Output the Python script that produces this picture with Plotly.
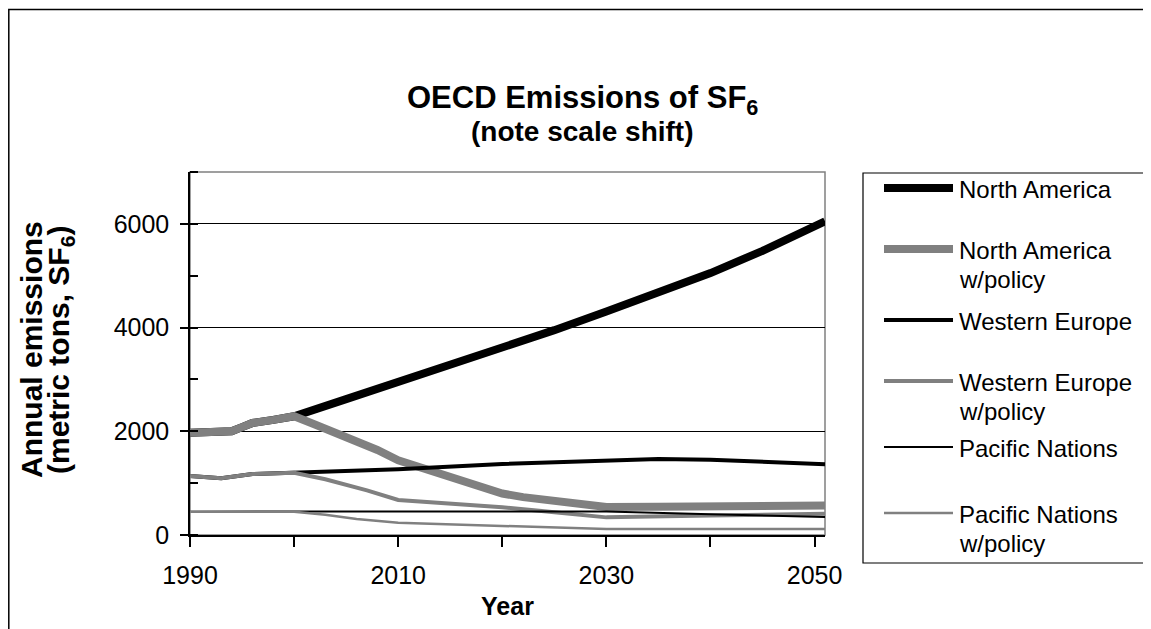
import plotly.graph_objects as go

# ---- data ----
years_na = [1990, 1992, 1994, 1995, 1996, 1998, 2000, 2005, 2010, 2015, 2020, 2025, 2030, 2035, 2040, 2045, 2050, 2051]
north_america = [1970, 1985, 2000, 2080, 2160, 2220, 2290, 2620, 2950, 3250, 3580, 3950, 4310, 4670, 5050, 5480, 5950, 6050]

years_nap = [1990, 1992, 1994, 1995, 1996, 1998, 2000, 2002, 2004, 2006, 2008, 2010, 2012, 2015, 2018, 2020, 2022, 2025, 2028, 2030, 2035, 2040, 2045, 2051]
north_america_policy = [1970, 1985, 2000, 2080, 2160, 2220, 2290, 2130, 1970, 1820, 1640, 1440, 1310, 1120, 930, 800, 730, 660, 590, 540, 545, 555, 560, 570]

years_we = [1990, 1993, 1996, 2000, 2010, 2020, 2030, 2035, 2040, 2045, 2051]
western_europe = [1140, 1095, 1175, 1200, 1270, 1370, 1445, 1465, 1450, 1420, 1365]

years_wep = [1990, 1993, 1996, 2000, 2003, 2007, 2010, 2014, 2020, 2025, 2030, 2040, 2051]
western_europe_policy = [1140, 1095, 1175, 1200, 1075, 860, 675, 620, 535, 440, 340, 375, 410]

years_pac = [1990, 2000, 2010, 2020, 2030, 2040, 2051]
pacific = [450, 450, 450, 460, 455, 400, 345]

years_pacp = [1990, 2000, 2003, 2006, 2010, 2014, 2020, 2030, 2051]
pacific_policy = [450, 450, 390, 310, 235, 210, 175, 115, 115]

series_names = ["North America", "North America w/policy", "Western Europe",
                "Western Europe w/policy", "Pacific Nations", "Pacific Nations w/policy"]
legend_lines = [["North America"], ["North America", "w/policy"], ["Western Europe"],
                ["Western Europe", "w/policy"], ["Pacific Nations"], ["Pacific Nations", "w/policy"]]
series_x = [years_na, years_nap, years_we, years_wep, years_pac, years_pacp]
series_y = [north_america, north_america_policy, western_europe,
            western_europe_policy, pacific, pacific_policy]
colors = ["black", "#808080", "black", "#808080", "black", "#808080"]
widths = [8, 8, 4, 4, 2, 2.5]

FONT = "Liberation Sans, Arial, sans-serif"

fig = go.Figure()
for name, xs, ys, col, w in zip(series_names, series_x, series_y, colors, widths):
    fig.add_trace(go.Scatter(x=xs, y=ys, name=name, mode="lines",
                             line=dict(color=col, width=w), showlegend=False))

# page-pixel geometry (the page body has an 8px margin)
OFF = 8
L, R, T, B = 190, 825, 172, 535      # plot area in page pixels
W, H = 1151 - OFF, 629 - OFF          # figure size
pw, ph = R - L, B - T
def px(x): return (x - L) / pw
def py(y): return (B - y) / ph

fig.update_layout(
    width=W, height=H,
    margin=dict(l=L - OFF, r=W - (R - OFF), t=T - OFF, b=H - (B - OFF), pad=0),
    paper_bgcolor="white", plot_bgcolor="white",
    font=dict(family=FONT, color="black", size=24),
    showlegend=False,
    xaxis=dict(range=[1990, 2051], tickmode="linear", tick0=1990, dtick=20,
               ticks="outside", ticklen=10, tickcolor="black", tickwidth=1.5,
               minor=dict(dtick=10, tick0=1990, ticks="outside", ticklen=10, tickcolor="black", tickwidth=1.5),
               showgrid=False, zeroline=False, showline=True, linecolor="black", linewidth=1.5,
               tickfont=dict(size=25), ticklabelstandoff=7,
               title=dict(text="<b>Year</b>", font=dict(size=25), standoff=10)),
    yaxis=dict(range=[0, 7000], tickmode="linear", tick0=0, dtick=2000,
               ticks="outside", ticklen=8, tickcolor="black", tickwidth=1.5,
               minor=dict(dtick=1000, ticks="inside", ticklen=8, tickcolor="black", tickwidth=1.5),
               showgrid=True, gridcolor="black", gridwidth=1,
               zeroline=False, showline=True, linecolor="black", linewidth=1.5,
               tickfont=dict(size=25), ticklabelstandoff=6),
)

shapes = [
    # plot-area border (gray)
    dict(type="rect", xref="paper", yref="paper", x0=0, x1=1, y0=0, y1=1,
         line=dict(color="#808080", width=1.5), layer="below"),
    # legend box
    dict(type="rect", xref="paper", yref="paper", x0=px(863), x1=px(1149), y0=py(563), y1=py(173),
         line=dict(color="black", width=1.2), layer="above"),
    # outer chart frame
    dict(type="rect", xref="paper", yref="paper", x0=px(OFF + 0.8), x1=px(1180), y0=py(660), y1=py(OFF + 1.5),
         line=dict(color="black", width=1.5), layer="above"),
]

annotations = [
    dict(text="<b>OECD Emissions of SF<sub>6</sub></b>", xref="paper", yref="paper",
         x=px(582), y=py(100), xanchor="center", yanchor="middle", showarrow=False,
         font=dict(size=31, family=FONT)),
    dict(text="<b>(note scale shift)</b>", xref="paper", yref="paper",
         x=px(582), y=py(131), xanchor="center", yanchor="middle", showarrow=False,
         font=dict(size=28, family=FONT)),
    dict(text="<b>Annual emissions</b>", xref="paper", yref="paper",
         x=px(31), y=py(350), xanchor="center", yanchor="middle", showarrow=False,
         textangle=-90, font=dict(size=30, family=FONT)),
    dict(text="<b>(metric tons, SF<sub>6</sub>)</b>", xref="paper", yref="paper",
         x=px(60), y=py(350), xanchor="center", yanchor="middle", showarrow=False,
         textangle=-90, font=dict(size=30, family=FONT)),
]

# manual legend (Excel-style: symbol aligned with first text line)
legend_y = [188, 249, 320, 381, 447, 513]
for lines, col, w, y0 in zip(legend_lines, colors, widths, legend_y):
    shapes.append(dict(type="line", xref="paper", yref="paper",
                       x0=px(884), x1=px(953), y0=py(y0), y1=py(y0),
                       line=dict(color=col, width=w)))
    for k, t in enumerate(lines):
        annotations.append(dict(text=t, xref="paper", yref="paper",
                                x=px(957), y=py(y0 + 1 + 29 * k), xanchor="left", yanchor="middle",
                                showarrow=False, font=dict(size=24, family=FONT)))

fig.update_layout(shapes=shapes, annotations=annotations)

fig.write_html("out.html")
